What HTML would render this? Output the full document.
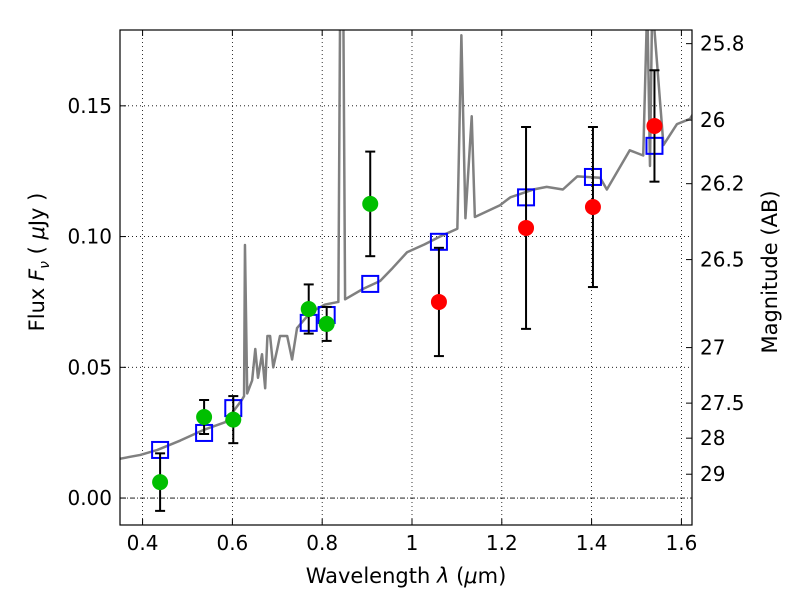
<!DOCTYPE html>
<html><head><meta charset="utf-8"><style>
body{margin:0;background:#fff;}
svg{display:block;font-family:"DejaVu Sans","Liberation Sans",sans-serif;}
</style></head><body>
<svg id="chart" width="800" height="600" viewBox="0 0 800 600" xmlns="http://www.w3.org/2000/svg">
<rect width="800" height="600" fill="#fff"/>
<g id="grid"></g>
<g id="marks"></g>
<g id="axes"></g>
</svg>
<script>
// data
const specLam=[0.345,0.395,0.433,0.484,0.535,0.584,0.621,0.626,0.628,0.633,0.644,0.651,0.657,0.666,0.673,0.678,0.684,0.691,0.700,0.706,0.722,0.733,0.744,0.774,0.806,0.836,0.840,0.847,0.851,0.891,0.929,0.957,0.989,1.028,1.062,1.101,1.110,1.119,1.133,1.140,1.196,1.219,1.270,1.300,1.336,1.368,1.419,1.434,1.485,1.515,1.524,1.530,1.535,1.560,1.590,1.619,1.63];
const specFlux=[0.0149,0.0165,0.0184,0.022,0.026,0.029,0.0375,0.039,0.0968,0.040,0.045,0.057,0.046,0.055,0.042,0.062,0.062,0.050,0.057,0.062,0.062,0.053,0.065,0.071,0.074,0.075,0.19,0.19,0.076,0.080,0.083,0.088,0.094,0.097,0.100,0.103,0.177,0.107,0.146,0.1075,0.112,0.115,0.118,0.119,0.118,0.123,0.1225,0.118,0.133,0.131,0.19,0.127,0.19,0.135,0.143,0.145,0.148];
const greenLam=[0.439,0.537,0.602,0.770,0.810,0.907];
const greenFlux=[0.0061,0.031,0.030,0.0723,0.0666,0.1125];
const greenErr=[0.011,0.0065,0.009,0.0094,0.0065,0.020];
const redLam=[1.060,1.254,1.403,1.540];
const redFlux=[0.075,0.1033,0.1113,0.1423];
const redErr=[0.0207,0.0386,0.0306,0.0213];
const modelLam=[0.439,0.537,0.602,0.770,0.810,0.907,1.060,1.254,1.403,1.540];
const modelFlux=[0.0184,0.0249,0.0344,0.067,0.070,0.0819,0.098,0.115,0.1228,0.1347];
const xTicks=[0.4,0.6,0.8,1.0,1.2,1.4,1.6];
const xTickLabels=["0.4","0.6","0.8","1","1.2","1.4","1.6"];
const yTicks=[0,0.05,0.10,0.15];
const yTickLabels=["0.00","0.05","0.10","0.15"];
const magTicks=[25.8,26,26.2,26.5,27,27.5,28,29];
const magTickLabels=["25.8","26","26.2","26.5","27","27.5","28","29"];

const L=120,R=692,T=30,B=525;
const xmin=0.3497,xmax=1.6236,ymin=-0.0103,ymax=0.179;
const X=v=>L+(v-xmin)/(xmax-xmin)*(R-L);
const Y=v=>B-(v-ymin)/(ymax-ymin)*(B-T);
const NS="http://www.w3.org/2000/svg";
function mk(tag,parent,attrs){const e=document.createElementNS(NS,tag);for(const k in attrs)e.setAttribute(k,attrs[k]);parent.appendChild(e);return e;}
const grid=document.getElementById('grid'),marks=document.getElementById('marks'),axes=document.getElementById('axes');

xTicks.forEach((t,i)=>{
  const g=mk('line',grid,{x1:X(t),x2:X(t),y1:T,y2:B,stroke:'#000','stroke-width':0.8,'stroke-dasharray':'1,3'});
  
  
  mk('line',axes,{x1:X(t),x2:X(t),y1:B,y2:B-6,stroke:'#000'});
  mk('line',axes,{x1:X(t),x2:X(t),y1:T,y2:T+6,stroke:'#000'});
  const tx=mk('text',axes,{x:X(t),y:B+25,'text-anchor':'middle','font-size':20});
  tx.textContent=xTickLabels[i];
  
  
});
yTicks.forEach((t,i)=>{
  const g=mk('line',grid,{x1:L,x2:R,y1:Y(t),y2:Y(t),stroke:'#000','stroke-width':0.8,'stroke-dasharray':t===0?'5,2,1,2':'1,3'});
  
  
  mk('line',axes,{x1:L,x2:L+6,y1:Y(t),y2:Y(t),stroke:'#000'});
  const tx=mk('text',axes,{x:L-8,y:Y(t)+7,'text-anchor':'end','font-size':20});
  tx.textContent=yTickLabels[i];
  
  
});
magTicks.forEach((m,i)=>{
  const f=Math.pow(10,(23.9-m)/2.5);
  mk('line',axes,{x1:R,x2:R-6,y1:Y(f),y2:Y(f),stroke:'#000'});
  const tx=mk('text',axes,{x:R+8,y:Y(f)+7,'font-size':20});
  tx.textContent=magTickLabels[i];
  
  
});

// spectrum
const cp=mk('clipPath',marks,{id:'clip'});mk('rect',cp,{x:L,y:T,width:R-L,height:B-T});
const sp=mk('polyline',marks,{points:specLam.map((l,i)=>X(l)+','+Y(specFlux[i])).join(' '),fill:'none',stroke:'#808080','stroke-width':2.5,'stroke-linejoin':'round','clip-path':'url(#clip)'});



// model squares
modelLam.forEach((l,i)=>{
  const r=mk('rect',marks,{x:X(l)-8,y:Y(modelFlux[i])-8,width:16,height:16,fill:'none',stroke:'#0000ff','stroke-width':2});
  
  
});
function pts(lams,fl,er,color,name){
  lams.forEach((l,i)=>{
    const x=X(l),y1=Y(fl[i]+er[i]),y2=Y(fl[i]-er[i]);
    mk('line',marks,{x1:x,x2:x,y1:y1,y2:y2,stroke:'#000','stroke-width':2});
    mk('line',marks,{x1:x-5,x2:x+5,y1:y1,y2:y1,stroke:'#000','stroke-width':2});
    mk('line',marks,{x1:x-5,x2:x+5,y1:y2,y2:y2,stroke:'#000','stroke-width':2});
    const c=mk('circle',marks,{cx:x,cy:Y(fl[i]),r:8,fill:color});
    
    
  });
}
pts(greenLam,greenFlux,greenErr,'#00bf00','observed-point-green');
pts(redLam,redFlux,redErr,'#ff0000','observed-point-red');

const fr=mk('rect',axes,{x:L,y:T,width:R-L,height:B-T,fill:'none',stroke:'#000','stroke-width':1.2});


</script>
<svg style="position:absolute;left:0;top:0" width="800" height="600">
<text x="406" y="583" text-anchor="middle" font-size="21" font-family="DejaVu Sans, sans-serif">Wavelength  <tspan font-style="italic">λ</tspan> (<tspan font-style="italic">μ</tspan>m)</text>
<text transform="translate(44,262) rotate(-90)" text-anchor="middle" font-size="21" font-family="DejaVu Sans, sans-serif">Flux  <tspan font-style="italic">F</tspan><tspan font-style="italic" font-size="14" dy="5">ν</tspan><tspan dy="-5">  ( </tspan><tspan font-style="italic">μ</tspan>Jy )</text>
<text transform="translate(777,272) rotate(-90)" text-anchor="middle" font-size="21" font-family="DejaVu Sans, sans-serif">Magnitude (AB)</text>
</svg>
</body></html>
